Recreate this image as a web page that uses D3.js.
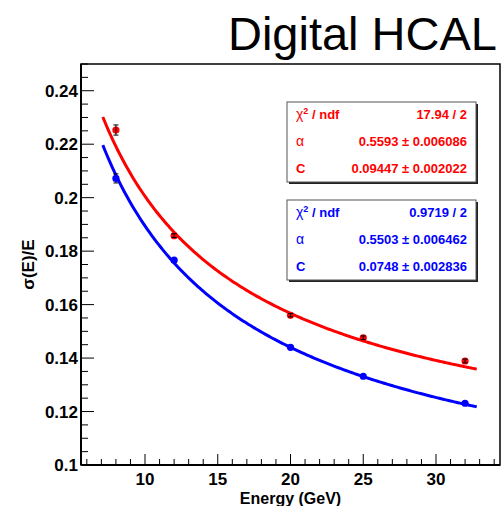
<!DOCTYPE html>
<html>
<head>
<meta charset="utf-8">
<script src="https://cdn.jsdelivr.net/npm/d3@7/dist/d3.min.js"></script>
<style>
  html, body { margin: 0; padding: 0; background: #fff; }
  svg { display: block; }
  text { font-family: "Liberation Sans", Arial, Helvetica, sans-serif; }
</style>
</head>
<body>
<script>
// Beam energies (GeV) and measured relative resolution for the two data sets
const energies = [8, 12, 20, 25, 32];
const redValues = [0.2253, 0.1858, 0.1560, 0.1476, 0.1389];
const redErrors = [0.0019, 0.0007, 0.0006, 0.0007, 0.0007];
const blueValues = [0.2072, 0.1766, 0.1440, 0.1332, 0.1231];
const blueErrors = [0.0017, 0.0006, 0.0005, 0.0005, 0.0005];

// Fit results: sigma/E = sqrt(alpha^2/E + C^2)
const redFit = { chi2: "17.94 / 2", alpha: "0.5593", alphaErr: "0.006086", c: "0.09447", cErr: "0.002022" };
const blueFit = { chi2: "0.9719 / 2", alpha: "0.5503", alphaErr: "0.006462", c: "0.0748", cErr: "0.002836" };
const fitRange = [7.1, 32.8];

// Axis ticks
const xMajorTicks = [10, 15, 20, 25, 30];
const yMajorTicks = [0.1, 0.12, 0.14, 0.16, 0.18, 0.2, 0.22, 0.24];
const yTickLabels = ["0.1", "0.12", "0.14", "0.16", "0.18", "0.2", "0.22", "0.24"];

const W = 502, H = 506;
const plot = { left: 81, right: 500, top: 64, bottom: 465 };

const svg = d3.select("body").append("svg").attr("width", W).attr("height", H);

const x = d3.scaleLinear().domain([5.6, 34.4]).range([plot.left, plot.right]);
const y = d3.scaleLinear().domain([0.1, 0.25]).range([plot.bottom, plot.top]);

// Frame
svg.append("rect")
  .attr("x", plot.left).attr("y", plot.top)
  .attr("width", plot.right - plot.left).attr("height", plot.bottom - plot.top)
  .attr("fill", "none").attr("stroke", "#000").attr("stroke-width", 1.5);

// Fit curves
function fitCurve(fit) {
  const a = +fit.alpha, c = +fit.c;
  const es = d3.range(0, 201).map(i => fitRange[0] + (fitRange[1] - fitRange[0]) * i / 200);
  return es.map(e => [e, Math.sqrt(a * a / e + c * c)]);
}
const line = d3.line().x(d => x(d[0])).y(d => y(d[1]));
svg.append("path").datum(fitCurve(redFit)).attr("d", line)
  .attr("fill", "none").attr("stroke", "#ff0000").attr("stroke-width", 3);
svg.append("path").datum(fitCurve(blueFit)).attr("d", line)
  .attr("fill", "none").attr("stroke", "#0000ff").attr("stroke-width", 3);

// Data points with error bars
function drawSeries(values, errors, color, barsOnTop) {
  const g = svg.append("g");
  const pts = energies.map((e, i) => ({ e, v: values[i], err: errors[i] }));
  function bars() {
    const b = g.append("g").attr("stroke", "#000").attr("stroke-width", 1);
    pts.forEach(p => {
      b.append("line").attr("x1", x(p.e)).attr("x2", x(p.e))
        .attr("y1", y(p.v - p.err)).attr("y2", y(p.v + p.err));
      [p.v - p.err, p.v + p.err].forEach(v => {
        b.append("line").attr("x1", x(p.e) - 2.5).attr("x2", x(p.e) + 2.5)
          .attr("y1", y(v)).attr("y2", y(v));
      });
    });
  }
  if (!barsOnTop) bars();
  g.selectAll("circle").data(pts).join("circle")
    .attr("cx", d => x(d.e)).attr("cy", d => y(d.v)).attr("r", 3.6)
    .attr("fill", color);
  if (barsOnTop) bars();
}
drawSeries(blueValues, blueErrors, "#0000ff", false);
drawSeries(redValues, redErrors, "#ff0000", true);

// Axes
const axes = svg.append("g").attr("stroke", "#000");
axes.append("line").attr("x1", plot.left).attr("x2", plot.left)
  .attr("y1", plot.top).attr("y2", plot.bottom).attr("stroke-width", 2);
axes.append("line").attr("x1", plot.left).attr("x2", plot.right)
  .attr("y1", plot.bottom).attr("y2", plot.bottom).attr("stroke-width", 2);

// Y ticks: major every 0.02, minor every 0.005
d3.range(0, 31).map(i => 0.1 + i * 0.005).forEach((v, i) => {
  const major = i % 4 === 0;
  axes.append("line").attr("x1", plot.left).attr("x2", plot.left + (major ? 13 : 7))
    .attr("y1", y(v)).attr("y2", y(v)).attr("stroke-width", 1);
});
// X ticks: major every 5, minor every 1
d3.range(6, 35).forEach(v => {
  const major = xMajorTicks.includes(v);
  axes.append("line").attr("x1", x(v)).attr("x2", x(v))
    .attr("y1", plot.bottom).attr("y2", plot.bottom - (major ? 11 : 6)).attr("stroke-width", 1);
});

svg.append("g").selectAll("text").data(yMajorTicks).join("text")
  .attr("x", plot.left - 3).attr("y", d => y(d) + 6)
  .attr("text-anchor", "end").attr("font-size", 17).attr("font-weight", "bold")
  .text((d, i) => yTickLabels[i]);

svg.append("g").selectAll("text").data(xMajorTicks).join("text")
  .attr("x", d => x(d)).attr("y", 485)
  .attr("text-anchor", "middle").attr("font-size", 17).attr("font-weight", "bold")
  .text(d => d);

// Axis titles
svg.append("text").attr("x", (plot.left + plot.right) / 2).attr("y", 503.5)
  .attr("text-anchor", "middle").attr("font-size", 16).attr("font-weight", "bold")
  .text("Energy (GeV)");
svg.append("text")
  .attr("transform", `translate(34,${(plot.top + plot.bottom) / 2}) rotate(-90)`)
  .attr("text-anchor", "middle").attr("font-size", 17).attr("font-weight", "bold")
  .text("σ(E)/E");

// Title
svg.append("text").attr("x", 497).attr("y", 50).attr("text-anchor", "end")
  .attr("font-size", 47).text("Digital HCAL");

// Fit statistics boxes
function statBox(fit, color, top) {
  const bx = 287, bw = 189, bh = 80;
  const g = svg.append("g");
  g.append("rect").attr("x", bx + 2).attr("y", top + 2).attr("width", bw).attr("height", bh).attr("fill", "#222");
  g.append("rect").attr("x", bx).attr("y", top).attr("width", bw).attr("height", bh)
    .attr("fill", "#fff").attr("stroke", "#555").attr("stroke-width", 1);
  const rows = [top + 17, top + 44, top + 71];
  const left = bx + 9, right = bx + 180;
  const t = g.append("g").attr("fill", color).attr("font-size", 13);

  const chi = t.append("text").attr("x", left).attr("y", rows[0]);
  chi.append("tspan").attr("font-size", 14).text("χ");
  chi.append("tspan").attr("font-weight", "bold").attr("font-size", 9).attr("dy", -5).text("2");
  chi.append("tspan").attr("font-weight", "bold").attr("dy", 5).text(" / ndf");
  t.append("text").attr("x", right).attr("y", rows[0]).attr("text-anchor", "end")
    .attr("font-weight", "bold").text(fit.chi2);

  t.append("text").attr("x", left).attr("y", rows[1]).attr("font-size", 14).text("α");
  t.append("text").attr("x", right).attr("y", rows[1]).attr("text-anchor", "end")
    .attr("font-weight", "bold").text(`${fit.alpha} ± ${fit.alphaErr}`);

  t.append("text").attr("x", left).attr("y", rows[2]).attr("font-weight", "bold").text("C");
  t.append("text").attr("x", right).attr("y", rows[2]).attr("text-anchor", "end")
    .attr("font-weight", "bold").text(`${fit.c} ± ${fit.cErr}`);
}
statBox(redFit, "#ff0000", 102);
statBox(blueFit, "#0000ff", 200);
</script>
</body>
</html>
